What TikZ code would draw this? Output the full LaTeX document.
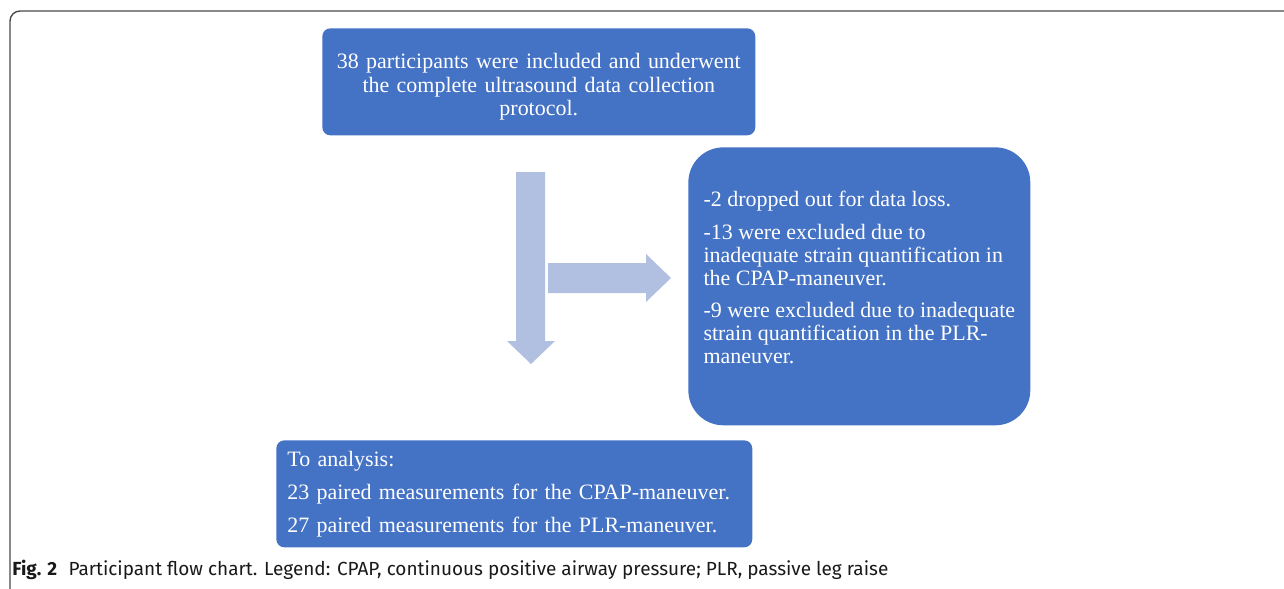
\documentclass[tikz,border=0pt]{standalone}
\usepackage{fontspec}
\setmainfont{Liberation Serif}
\newfontfamily\capfont{Fira Sans}
\usetikzlibrary{positioning}
\definecolor{boxblue}{HTML}{4472C4}
\definecolor{arrowblue}{HTML}{B1BFE1}
\definecolor{framegray}{HTML}{4A4A4A}
\tikzset{
  % blue flow box
  flow box/.style = {
    fill = boxblue,
    text = white,
    inner sep = 0,
    anchor = north west
  },
  % light block arrow
  block arrow/.style = {
    fill = arrowblue,
    draw = none
  },
  frame line/.style = {
    draw = framegray,
    line width = 0.8pt,
    rounded corners = 0.2cm
  }
}

\begin{document}
\begin{tikzpicture}[x=0.02cm, y=-0.02cm]
    \useasboundingbox (0,0) rectangle (1284,588);
    \draw[frame line] (10,600) |- (1300,11);

    \node[flow box, rounded corners=0.16cm, minimum width=8.66cm,
      minimum height=2.14cm, text width=8.66cm, align=center,
      font=\fontsize{12.5}{13.4}\selectfont] (included) at (322,28)
      {\mbox{}\\[1.3pt]
       38 participants were included and underwent\\
       the complete ultrasound data collection\\
       protocol.};

    \node[flow box, rounded corners=0.7cm, minimum width=6.84cm,
      minimum height=5.56cm, align=left,
      font=\fontsize{12.5}{13.1}\selectfont] (excluded) at (688,147)
      {-2 dropped out for data loss.\\[5.4pt]
       -13 were excluded due to\\
       inadequate strain quantification in\\
       the CPAP-maneuver.\\[5.4pt]
       -9 were excluded due to inadequate\\
       strain quantification in the PLR-\\
       maneuver.\\[-3pt]
       \mbox{}};

    \node[flow box, rounded corners=0.16cm, minimum width=9.52cm,
      minimum height=2.14cm, text width=9.08cm, align=left,
      inner xsep=0.22cm, font=\fontsize{12.5}{18.8}\selectfont] (analysis) at (276,440)
      {To analysis:\\
       23 paired measurements for the CPAP-maneuver.\\
       27 paired measurements for the PLR-maneuver.};

    % arrows between the boxes
    \coordinate (down-start) at (531,172);
    \coordinate (down-tip) at (531,364);
    \coordinate (side-start) at (548,278);
    \coordinate (side-tip) at (671,278);

    \fill[block arrow] (down-start) ++(-15,0) -- ++(29,0) -- ++(0,169)
      -- ++(10,0) -- (down-tip) -- ++(-24,-23) -- ++(9,0) -- cycle;
    \fill[block arrow] (side-start) ++(0,-15) -- ++(98,0) -- ++(0,-9)
      -- (side-tip) -- ++(-25,24) -- ++(0,-9) -- ++(-98,0) -- cycle;

    \node[anchor=base west, inner sep=0, text=black!90,
      font=\capfont\fontsize{10.8}{12}\selectfont] (caption) at (12,575)
      {\textbf{Fig. 2}\hspace{0.6em}Participant flow chart. Legend: CPAP, continuous positive airway pressure; PLR, passive leg raise};
\end{tikzpicture}
\end{document}
